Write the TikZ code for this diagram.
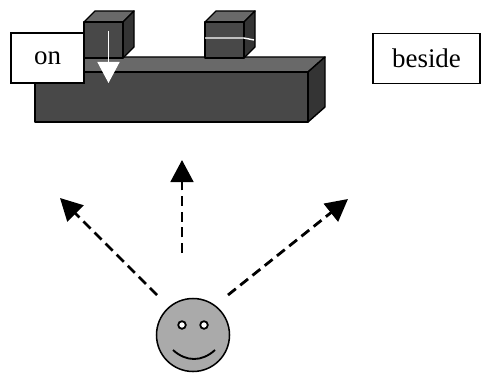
\documentclass[tikz,border=0pt]{standalone}
\usepackage{fontspec}
\setmainfont{Liberation Serif}
\usetikzlibrary{arrows.meta, positioning, calc}
\definecolor{facegray}{RGB}{170, 170, 170}
\definecolor{beamfront}{RGB}{72, 72, 72}
\definecolor{beamtop}{RGB}{105, 105, 105}
\definecolor{beamside}{RGB}{52, 52, 52}
\tikzstyle{wordbox} = [rectangle, draw=black, line width=1.3pt, fill=white, text centered, font=\fontsize{23}{27}\selectfont]
\tikzstyle{lookarrow} = [line width=2.4pt, dash pattern=on 0.3cm off 0.17cm, -{Triangle[length=0.66cm, width=0.68cm]}]
\tikzstyle{solid3d} = [draw=black, line width=1.2pt, line join=round]

\begin{document}
\begin{tikzpicture}[x=0.03cm, y=-0.03cm]
\useasboundingbox (0,0) rectangle (484,373);

% long beam: top, side, front
\draw [solid3d, fill=beamtop] (35,72) -- (52,57) -- (325,57) -- (308,72) -- cycle;
\draw [solid3d, fill=beamside] (308,72) -- (325,57) -- (325,107) -- (308,122) -- cycle;
\draw [solid3d, fill=beamfront] (35,72) rectangle (308,122);

% the two cubes standing on the beam
\foreach \cx in {84,205} {
  \draw [solid3d, fill=beamtop] (\cx,22) -- (\cx+11,11) -- (\cx+50,11) -- (\cx+39,22) -- cycle;
  \draw [solid3d, fill=beamside] (\cx+39,22) -- (\cx+50,11) -- (\cx+50,47) -- (\cx+39,58) -- cycle;
  \draw [solid3d, fill=beamfront] (\cx,22) rectangle (\cx+39,58);
}
\draw [white, line width=1.2pt] (205,38) -- (244,38) -- (254,40);

% word labels
\node (on) [wordbox, minimum width=2.19cm, minimum height=1.5cm] at (47.5,58) {on};
\node (beside) [wordbox, minimum width=3.21cm, minimum height=1.5cm] at (426.5,58.5) {beside};

% white arrow down into the beam
\coordinate (ontop) at (108.5,31);
\coordinate (onbeam) at (108.5,83);
\draw [white, line width=1.3pt, -{Triangle[length=0.63cm, width=0.66cm]}] (ontop) -- (onbeam);

% viewer
\node (viewer) [circle, draw=black, line width=1.3pt, fill=facegray, minimum size=2.19cm, inner sep=0pt] at (193,335) {};
\draw [line width=1.5pt, fill=white] (182,325) circle (3.8) (204,325) circle (3.8);
\draw [line width=1.6pt] (173,350) .. controls (186,362) and (202,362) .. (215,350);

% lines of sight
\coordinate (fromL) at (157,295);
\coordinate (fromC) at (182,253);
\coordinate (fromR) at (228,295);
\coordinate (toL) at (60,198);
\coordinate (toC) at (182,160);
\coordinate (toR) at (348,199);
\draw [lookarrow] (fromL) -- (toL);
\draw [lookarrow] (fromC) -- (toC);
\draw [lookarrow] (fromR) -- (toR);

\end{tikzpicture}
\end{document}
